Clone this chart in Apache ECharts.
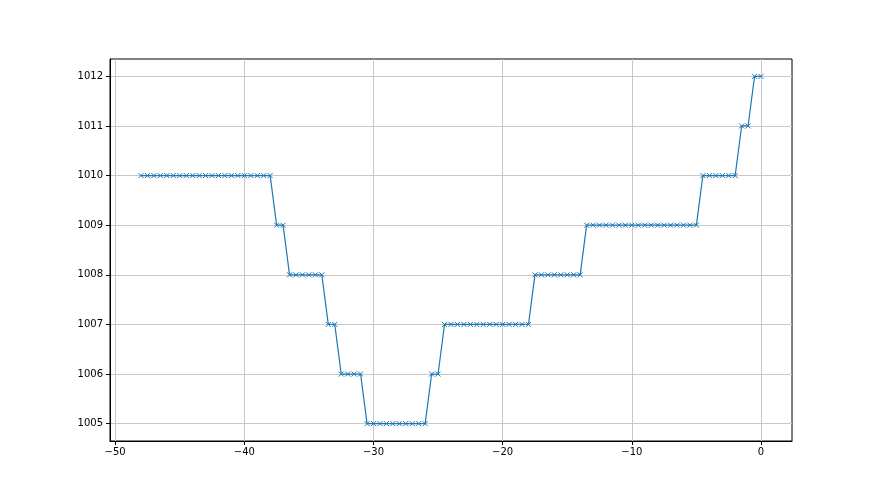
<!DOCTYPE html>
<html>
<head>
<meta charset="utf-8">
<script src="https://cdn.jsdelivr.net/npm/echarts@6/dist/echarts.min.js"></script>
<style>
  html, body { margin: 0; padding: 0; background: #fff; }
  #main { width: 880px; height: 495px; }
</style>
</head>
<body>
<div id="main"></div>
<script>
// sample positions (x) and readings (y)
const xValues = [
  -48, -47.5, -47, -46.5, -46, -45.5, -45, -44.5, -44, -43.5,
  -43, -42.5, -42, -41.5, -41, -40.5, -40, -39.5, -39, -38.5,
  -38, -37.5, -37, -36.5, -36, -35.5, -35, -34.5, -34, -33.5,
  -33, -32.5, -32, -31.5, -31, -30.5, -30, -29.5, -29, -28.5,
  -28, -27.5, -27, -26.5, -26, -25.5, -25, -24.5, -24, -23.5,
  -23, -22.5, -22, -21.5, -21, -20.5, -20, -19.5, -19, -18.5,
  -18, -17.5, -17, -16.5, -16, -15.5, -15, -14.5, -14, -13.5,
  -13, -12.5, -12, -11.5, -11, -10.5, -10, -9.5, -9, -8.5,
  -8, -7.5, -7, -6.5, -6, -5.5, -5, -4.5, -4, -3.5,
  -3, -2.5, -2, -1.5, -1, -0.5, 0
];
const yValues = [
  1010, 1010, 1010, 1010, 1010, 1010, 1010, 1010, 1010, 1010,
  1010, 1010, 1010, 1010, 1010, 1010, 1010, 1010, 1010, 1010,
  1010, 1009, 1009, 1008, 1008, 1008, 1008, 1008, 1008, 1007,
  1007, 1006, 1006, 1006, 1006, 1005, 1005, 1005, 1005, 1005,
  1005, 1005, 1005, 1005, 1005, 1006, 1006, 1007, 1007, 1007,
  1007, 1007, 1007, 1007, 1007, 1007, 1007, 1007, 1007, 1007,
  1007, 1008, 1008, 1008, 1008, 1008, 1008, 1008, 1008, 1009,
  1009, 1009, 1009, 1009, 1009, 1009, 1009, 1009, 1009, 1009,
  1009, 1009, 1009, 1009, 1009, 1009, 1009, 1010, 1010, 1010,
  1010, 1010, 1010, 1011, 1011, 1012, 1012
];
const xTicks = [-50, -40, -30, -20, -10, 0];
const yTicks = [1005, 1006, 1007, 1008, 1009, 1010, 1011, 1012];

const points = xValues.map((x, i) => [x, yValues[i]]);
const minus = v => String(v).replace('-', '\u2212');

const axisFont = { color: '#000', fontSize: 10, fontFamily: 'DejaVu Sans' };

const option = {
  backgroundColor: '#fff',
  animation: false,
  grid: {
    left: 110, right: 88, top: 59, bottom: 54,
    show: true, borderColor: '#000', borderWidth: 1
  },
  xAxis: {
    type: 'value',
    min: -50.4, max: 2.4,
    axisLine: { show: true, onZero: false, lineStyle: { color: '#000', width: 1 } },
    axisTick: { show: true, length: 4, customValues: xTicks, lineStyle: { color: '#000' } },
    axisLabel: { customValues: xTicks, margin: 6, formatter: minus, ...axisFont },
    splitLine: { show: true, lineStyle: { color: '#c8c8c8', width: 1 } }
  },
  yAxis: {
    type: 'value',
    min: 1004.65, max: 1012.35,
    axisLine: { show: true, onZero: false, lineStyle: { color: '#000', width: 1 } },
    axisTick: { show: true, length: 4, customValues: yTicks, lineStyle: { color: '#000' } },
    axisLabel: { customValues: yTicks, margin: 7, formatter: v => String(v), ...axisFont },
    splitLine: { show: true, lineStyle: { color: '#c8c8c8', width: 1 } }
  },
  series: [{
    type: 'line',
    data: points,
    symbol: 'path://M0,0L10,10M10,0L0,10',
    symbolSize: 5,
    showAllSymbol: true,
    lineStyle: { color: '#1f77b4', width: 1.2 },
    itemStyle: { color: '#1f77b4', borderColor: '#1f77b4', borderWidth: 1 }
  }]
};

const chart = echarts.init(document.getElementById('main'));
chart.setOption(option);
</script>
</body>
</html>
